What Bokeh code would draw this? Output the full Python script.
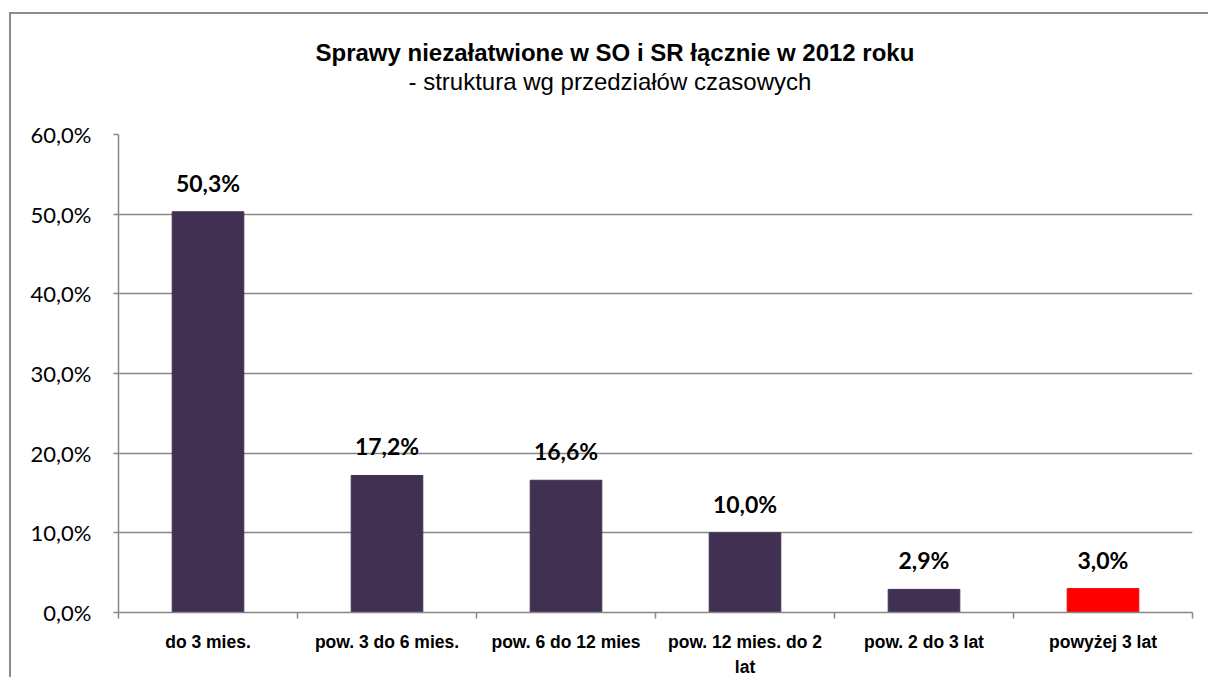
from bokeh.plotting import figure
from bokeh.models import FixedTicker, LabelSet, ColumnDataSource, Range1d, Title
from bokeh.embed import file_html
from bokeh.resources import INLINE
from bokeh.core.properties import value

# ---- data ----
categories = ["do 3 mies.", "pow. 3 do 6 mies.", "pow. 6 do 12 mies",
              "pow. 12 mies. do 2\nlat", "pow. 2 do 3 lat", "powyżej 3 lat"]
values = [50.3, 17.2, 16.6, 10.0, 2.9, 3.0]
value_labels = ["50,3%", "17,2%", "16,6%", "10,0%", "2,9%", "3,0%"]
y_ticks = [0, 10, 20, 30, 40, 50, 60]
y_tick_labels = ["0,0%", "10,0%", "20,0%", "30,0%", "40,0%", "50,0%", "60,0%"]
highlight = "powyżej 3 lat"
title_text = "Sprawy niezałatwione w SO i SR łącznie w 2012 roku"
subtitle_text = "- struktura wg przedziałów czasowych"

# ---- derived ----
n = len(categories)
centers = [i + 0.5 for i in range(n)]
bounds = [float(i) for i in range(n + 1)]
colors = ["#ff0000" if c == highlight else "#403152" for c in categories]
src = ColumnDataSource(dict(x=centers, top=values, color=colors, label=value_labels))

GRID = "#878787"

p = figure(width=1199, height=665, x_range=Range1d(0, n), y_range=Range1d(0, 60),
           output_backend="svg", toolbar_location=None, title=None,
           min_border_left=107, min_border_right=18, min_border_top=120, min_border_bottom=67)
p.margin = (14, 0, 0, 11)
p.styles = {"box-shadow": "-2px -2px 0 0 #8c8c8c"}
p.outline_line_color = None
p.background_fill_color = "white"
p.border_fill_color = "white"

p.vbar(x="x", top="top", width=0.4, color="color", source=src)

p.add_layout(LabelSet(x="x", y="top", text="label", source=src, y_offset=20,
                      text_align="center", text_baseline="alphabetic",
                      text_font=value("Lato"), text_font_style="bold",
                      text_font_size=value("23px"), text_color="black"))

# grid
p.xgrid.visible = False
p.ygrid.ticker = FixedTicker(ticks=y_ticks)
p.ygrid.grid_line_color = GRID
p.ygrid.grid_line_width = 1.5

# y axis
p.yaxis.ticker = FixedTicker(ticks=y_ticks)
p.yaxis.major_label_overrides = {t: l for t, l in zip(y_ticks, y_tick_labels)}
p.yaxis.axis_line_color = GRID
p.yaxis.axis_line_width = 1.5
p.yaxis.major_tick_line_color = GRID
p.yaxis.major_tick_line_width = 1.5
p.yaxis.major_tick_out = 5
p.yaxis.major_tick_in = 0
p.yaxis.minor_tick_line_color = None
p.yaxis.major_label_standoff = 22
p.yaxis.major_label_text_font = "Lato"
p.yaxis.major_label_text_font_size = "22px"
p.yaxis.major_label_text_color = "black"

# x axis
p.xaxis.ticker = FixedTicker(ticks=centers, minor_ticks=bounds)
p.xaxis.major_label_overrides = {c: l for c, l in zip(centers, categories)}
p.xaxis.axis_line_color = GRID
p.xaxis.axis_line_width = 1.5
p.xaxis.major_tick_out = 0
p.xaxis.major_tick_in = 0
p.xaxis.major_tick_line_color = None
p.xaxis.minor_tick_out = 6
p.xaxis.minor_tick_in = 0
p.xaxis.minor_tick_line_color = GRID
p.xaxis.minor_tick_line_width = 1.5
p.xaxis.major_label_standoff = 13
p.xaxis.major_label_text_font = "Liberation Sans"
p.xaxis.major_label_text_font_style = "bold"
p.xaxis.major_label_text_font_size = "17.5px"
p.xaxis.major_label_text_line_height = 1.25
p.xaxis.major_label_text_color = "black"

# titles (subtitle nearest the frame, main title above it)
p.add_layout(Title(text=subtitle_text, align="left", offset=290, standoff=80,
                   vertical_align="bottom", text_font="Liberation Sans",
                   text_font_style="normal", text_font_size="24px", text_color="black"), "above")
p.add_layout(Title(text=title_text, align="left", offset=197, standoff=-80,
                   vertical_align="bottom", text_font="Liberation Sans",
                   text_font_style="bold", text_font_size="24px", text_color="black"), "above")

open("out.html", "w").write(file_html(p, INLINE))
